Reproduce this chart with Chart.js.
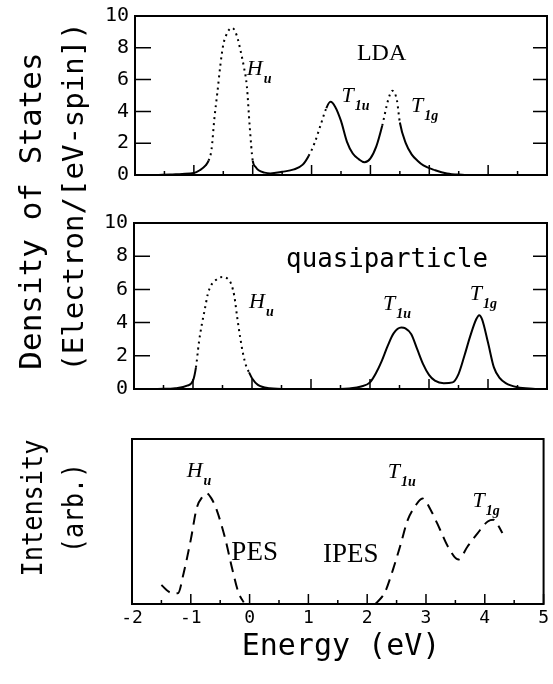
<!DOCTYPE html>
<html>
<head>
<meta charset="utf-8">
<script src="https://cdn.jsdelivr.net/npm/chart.js@4"></script>
<style>
  html, body { margin: 0; padding: 0; background: #fff; }
  #wrap { position: relative; width: 553px; height: 684px; }
  #wrap canvas { position: absolute; left: 0; top: 0; }
</style>
</head>
<body>
<div id="wrap">
  <canvas id="ldaChart" width="553" height="684"></canvas>
  <canvas id="qpChart" width="553" height="684"></canvas>
  <canvas id="pesChart" width="553" height="684"></canvas>
</div>
<script>
// LDA density of states
const ldaEnergy = [-1.6, -1.4, -1.2, -1.0, -0.9, -0.8, -0.75, -0.7, -0.65, -0.6, -0.55, -0.5, -0.45, -0.4, -0.35, -0.3, -0.25, -0.2, -0.15, -0.1, -0.05, 0.0, 0.05, 0.1, 0.2, 0.3, 0.5, 0.7, 0.85, 0.95, 1.05, 1.15, 1.25, 1.32, 1.4, 1.5, 1.6, 1.7, 1.8, 1.9, 2.0, 2.1, 2.2, 2.3, 2.37, 2.45, 2.5, 2.6, 2.7, 2.8, 2.9, 3.1, 3.3, 3.6];
const ldaDos = [0.0, 0.03, 0.07, 0.12, 0.3, 0.6, 0.9, 1.6, 3.6, 5.2, 6.9, 8.2, 8.8, 9.15, 9.25, 9.05, 8.5, 7.7, 6.8, 5.6, 3.0, 0.9, 0.5, 0.3, 0.15, 0.1, 0.2, 0.35, 0.65, 1.2, 2.0, 3.1, 4.2, 4.6, 4.3, 3.4, 2.1, 1.35, 1.0, 0.8, 1.05, 1.8, 3.1, 4.7, 5.3, 4.7, 3.3, 2.0, 1.3, 0.9, 0.6, 0.3, 0.1, 0.0];

// quasiparticle density of states
const qpEnergy = [-1.6, -1.3, -1.1, -1.0, -0.95, -0.9, -0.85, -0.8, -0.75, -0.7, -0.6, -0.5, -0.4, -0.35, -0.3, -0.25, -0.2, -0.15, -0.1, -0.05, 0.0, 0.1, 0.3, 0.6, 1.5, 1.65, 1.85, 2.0, 2.1, 2.2, 2.3, 2.4, 2.53, 2.6, 2.7, 2.8, 2.9, 3.0, 3.1, 3.25, 3.4, 3.5, 3.6, 3.7, 3.8, 3.85, 3.9, 4.0, 4.1, 4.2, 4.3, 4.5, 4.8];
const qpDos = [0.0, 0.05, 0.2, 0.5, 1.3, 2.8, 3.9, 4.8, 5.7, 6.2, 6.6, 6.75, 6.6, 6.3, 5.6, 4.3, 3.1, 2.1, 1.4, 1.0, 0.65, 0.25, 0.05, 0.0, 0.0, 0.03, 0.15, 0.4, 0.95, 1.7, 2.6, 3.35, 3.7, 3.65, 3.3, 2.4, 1.5, 0.85, 0.5, 0.35, 0.4, 0.9, 2.0, 3.2, 4.2, 4.45, 4.2, 2.8, 1.3, 0.65, 0.35, 0.1, 0.0];

// photoemission / inverse photoemission spectra
const pesEnergy = [-1.5, -1.35, -1.22, -1.12, -1.0, -0.9, -0.8, -0.73, -0.65, -0.56, -0.41, -0.3, -0.19, -0.1];
const pesIntensity = [1.15, 0.7, 0.65, 1.9, 3.9, 5.8, 6.5, 6.7, 6.4, 5.7, 3.9, 2.2, 0.7, 0.1];
const ipesEnergy = [2.14, 2.3, 2.44, 2.56, 2.69, 2.81, 2.94, 3.08, 3.24, 3.37, 3.55, 3.71, 3.88, 4.05, 4.15, 4.22, 4.3];
const ipesIntensity = [0.0, 0.7, 2.1, 3.5, 5.1, 5.9, 6.4, 5.7, 4.5, 3.5, 2.7, 3.5, 4.3, 5.0, 5.1, 4.8, 4.3];

// axis ranges
const energyRange = [-2, 5];
const dosRange = [0, 10];

// energy windows drawn dotted
const ldaDotted = [[-0.75, 0.0], [1.0, 1.25], [2.2, 2.5]];
const qpDotted = [[-0.95, -0.05]];

const MONO = "DejaVu Sans Mono";
const SERIF = "Liberation Serif";

function points(xs, ys) {
  return xs.map((x, i) => ({ x: x, y: ys[i] }));
}

function isWhole(v) {
  return Math.abs(v - Math.round(v)) < 1e-6;
}

function dottedIn(ranges) {
  return ctx => {
    const mid = (ctx.p0.parsed.x + ctx.p1.parsed.x) / 2;
    return ranges.some(r => mid >= r[0] && mid <= r[1]) ? [2, 4] : undefined;
  };
}

// box, inward ticks, peak labels, side titles
const framePlugin = {
  id: "frame",
  afterDatasetsDraw(chart, args, opts) {
    const { ctx, chartArea: a } = chart;
    const x = chart.scales.x, y = chart.scales.y;
    ctx.save();
    ctx.strokeStyle = "#000";
    ctx.fillStyle = "#000";
    ctx.lineWidth = 2;
    ctx.strokeRect(a.left, a.top, a.right - a.left, a.bottom - a.top);

    ctx.lineWidth = 1.5;
    ctx.beginPath();
    x.ticks.forEach(t => {
      const px = x.getPixelForValue(t.value);
      const len = isWhole(t.value) ? 10 : 4;
      ctx.moveTo(px, a.bottom);
      ctx.lineTo(px, a.bottom - len);
    });
    if (opts.yTicks) {
      y.ticks.forEach(t => {
        if (t.value <= y.min || t.value >= y.max) return;
        const py = y.getPixelForValue(t.value);
        ctx.moveTo(a.left, py);
        ctx.lineTo(a.left + 16, py);
        ctx.moveTo(a.right, py);
        ctx.lineTo(a.right - 14, py);
      });
    }
    ctx.stroke();

    (opts.labels || []).forEach(l => {
      const px = x.getPixelForValue(l.x);
      const py = y.getPixelForValue(l.y);
      ctx.font = l.font || "italic 22px '" + SERIF + "'";
      ctx.textAlign = l.align || "left";
      ctx.textBaseline = "alphabetic";
      if (l.maxWidth) ctx.fillText(l.text, px, py, l.maxWidth);
      else ctx.fillText(l.text, px, py);
      if (l.sub) {
        const w = ctx.measureText(l.text).width;
        ctx.font = "italic bold 14px '" + SERIF + "'";
        ctx.textAlign = "left";
        ctx.fillText(l.sub, px + w + 1, py + 8);
      }
    });

    (opts.titles || []).forEach(t => {
      ctx.save();
      ctx.translate(t.x, t.y);
      if (t.rotate) ctx.rotate(-Math.PI / 2);
      ctx.font = t.size + "px '" + MONO + "'";
      ctx.textAlign = "center";
      ctx.textBaseline = "alphabetic";
      ctx.fillText(t.text, 0, 0, t.width);
      ctx.restore();
    });
    ctx.restore();
  },
};

function panelOptions(p) {
  return {
    responsive: false,
    animation: false,
    events: [],
    layout: {
      padding: {
        left: p.left - 45,
        top: p.top,
        right: 553 - p.right,
        bottom: 684 - p.bottom - (p.xLabels ? 80 : 0),
      },
    },
    plugins: {
      legend: { display: false },
      tooltip: { enabled: false },
      frame: { yTicks: p.yTicks, labels: p.labels, titles: p.titles },
    },
    scales: {
      x: {
        type: "linear",
        min: energyRange[0],
        max: energyRange[1],
        grid: { display: false, drawTicks: false },
        border: { display: false },
        ticks: {
          display: p.xLabels,
          stepSize: 0.5,
          autoSkip: false,
          maxRotation: 0,
          padding: 4,
          color: "#000",
          font: { family: MONO, size: 18, lineHeight: 1.2 },
          callback: v => (isWhole(v) ? String(Math.round(v)) : ""),
        },
        afterFit: s => { s.height = p.xLabels ? 80 : 0; },
      },
      y: {
        type: "linear",
        min: dosRange[0],
        max: dosRange[1],
        grid: { display: false, drawTicks: false },
        border: { display: false },
        ticks: {
          display: p.yTicks,
          stepSize: 2,
          padding: 6,
          color: "#000",
          font: { family: MONO, size: 20, lineHeight: 1 },
        },
        afterFit: s => { s.width = 45; },
      },
    },
  };
}

function curve(data, dash, dotted) {
  return {
    data: data,
    borderColor: "#000",
    borderWidth: 2,
    borderDash: dash || [],
    pointRadius: 0,
    fill: false,
    cubicInterpolationMode: "monotone",
    segment: dotted ? { borderDash: dottedIn(dotted) } : undefined,
  };
}

// LDA
new Chart(document.getElementById("ldaChart"), {
  type: "line",
  data: { datasets: [curve(points(ldaEnergy, ldaDos), null, ldaDotted)] },
  options: panelOptions({
    left: 135, right: 547, top: 12, bottom: 175, yTicks: true, xLabels: false,
    labels: [
      { text: "LDA", x: 2.19, y: 7.24, align: "center", font: "24px '" + SERIF + "'" },
      { text: "H", sub: "u", x: -0.1, y: 6.26 },
      { text: "T", sub: "1u", x: 1.51, y: 4.6 },
      { text: "T", sub: "1g", x: 2.69, y: 3.99 },
    ],
  }),
  plugins: [framePlugin],
});

// quasiparticle
new Chart(document.getElementById("qpChart"), {
  type: "line",
  data: { datasets: [curve(points(qpEnergy, qpDos), null, qpDotted)] },
  options: panelOptions({
    left: 134, right: 547, top: 223, bottom: 389, yTicks: true, xLabels: false,
    labels: [
      { text: "quasiparticle", x: 2.29, y: 7.35, align: "center", maxWidth: 202, font: "26px '" + MONO + "'" },
      { text: "H", sub: "u", x: -0.05, y: 4.88 },
      { text: "T", sub: "1u", x: 2.22, y: 4.76 },
      { text: "T", sub: "1g", x: 3.69, y: 5.36 },
    ],
  }),
  plugins: [framePlugin],
});

// PES / IPES
new Chart(document.getElementById("pesChart"), {
  type: "line",
  data: {
    datasets: [
      curve(points(pesEnergy, pesIntensity), [11, 7]),
      curve(points(ipesEnergy, ipesIntensity), [11, 7]),
    ],
  },
  options: panelOptions({
    left: 132, right: 546, top: 439, bottom: 604, yTicks: false, xLabels: true,
    labels: [
      { text: "H", sub: "u", x: -1.07, y: 7.7 },
      { text: "T", sub: "1u", x: 2.35, y: 7.64 },
      { text: "T", sub: "1g", x: 3.79, y: 5.88 },
      { text: "PES", x: -0.31, y: 2.67, font: "27px '" + SERIF + "'" },
      { text: "IPES", x: 1.25, y: 2.55, font: "27px '" + SERIF + "'" },
    ],
    titles: [
      { text: "Density of States", x: 41, y: 211, rotate: true, size: 31, width: 323 },
      { text: "(Electron/[eV-spin])", x: 83, y: 197, rotate: true, size: 29, width: 365 },
      { text: "Intensity", x: 42, y: 508, rotate: true, size: 28, width: 137 },
      { text: "(arb.)", x: 83, y: 508, rotate: true, size: 28, width: 90 },
      { text: "Energy (eV)", x: 341, y: 655, rotate: false, size: 30, width: 202 },
    ],
  }),
  plugins: [framePlugin],
});
</script>
</body>
</html>
